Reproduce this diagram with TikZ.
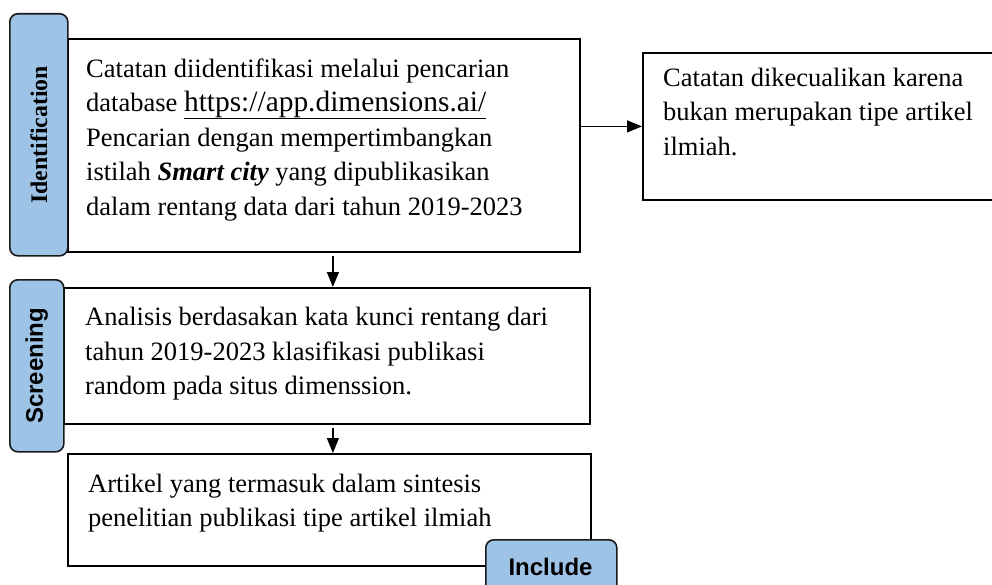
\documentclass[tikz,border=0pt]{standalone}
\usepackage{fontspec}
\setmainfont{Liberation Serif}
\newfontfamily\sansfam{Liberation Sans}
\usetikzlibrary{arrows.meta}
\definecolor{tabblue}{RGB}{157,195,230}
\newcommand\myul[1]{\setbox0\hbox{#1}\rlap{\rule[-7.4pt]{\wd0}{1.5pt}}\box0}
\begin{document}
\begin{tikzpicture}[x=1pt,y=-1pt,
  boxnode/.style={draw=black, line width=1.8pt, fill=white, inner sep=0pt, anchor=north west},
  tabnode/.style={draw=black!90, line width=1.6pt, fill=tabblue, rounded corners=8pt, inner sep=0pt, anchor=north west},
  txt/.style={inner sep=0pt, anchor=north west, align=left, font=\fontsize{26.5}{34.5}\selectfont},
  tablabel/.style={inner sep=0pt, font=\fontsize{23.8}{28}\selectfont\bfseries},
  sanslabel/.style={inner sep=0pt, font=\fontsize{24}{28}\selectfont\sansfam\bfseries},
  arr/.style={line width=1.2pt, -{Triangle[length=15pt,width=12pt]}}]
\useasboundingbox (0,0) rectangle (992,585);
\clip (0,0) rectangle (992,585);
% boxes
\node[boxnode, minimum width=512pt, minimum height=213pt] (b1) at (67,38) {};
\node[boxnode, minimum width=526pt, minimum height=136pt] (b2) at (63,287) {};
\node[boxnode, minimum width=523pt, minimum height=112pt] (b3) at (67,453) {};
\node[boxnode, minimum width=400pt, minimum height=147pt] (rb) at (642,52) {};
% texts
\node[txt] (b1t) at (86,58.5) {Catatan diidentifikasi melalui pencarian\\
database {\fontsize{29.4}{34.5}\selectfont\myul{https://app.dimensions.ai/}}\\
Pencarian dengan mempertimbangkan\\
istilah \textbf{\textit{Smart city}} yang dipublikasikan\\
dalam rentang data dari tahun 2019-2023};
\node[txt] (b2t) at (85,307) {Analisis berdasakan kata kunci rentang dari\\
tahun 2019-2023 klasifikasi publikasi\\
random pada situs dimenssion.};
\node[txt] (b3t) at (88,473.5) {Artikel yang termasuk dalam sintesis\\
penelitian publikasi tipe artikel ilmiah};
\node[txt] (rbt) at (663,67.5) {Catatan dikecualikan karena\\
bukan merupakan tipe artikel\\
ilmiah.};
% tabs
\node[tabnode, minimum width=58pt, minimum height=242pt] (t1) at (9,13) {};
\node[tablabel, rotate=90] (t1l) at (t1.center) {Identification};
\node[tabnode, minimum width=54pt, minimum height=172pt] (t2) at (9,279) {};
\node[sanslabel, rotate=90] (t2l) at (t2.center) {Screening};
\node[tabnode, minimum width=131pt, minimum height=80pt] (t3) at (485,539) {};
\node[sanslabel, anchor=base] (t3l) at (550.5,575) {Include};
% connectors
\draw[arr] (b1.east |- rb.west) -- (rb.west);
\draw[arr] ([xshift=9pt,yshift=-3pt]b1.south) -- ([xshift=9pt]b1.south |- b2.north);
\draw[arr] ([xshift=6pt,yshift=-3pt]b2.south) -- ([xshift=6pt]b2.south |- b3.north);
\end{tikzpicture}
\end{document}
